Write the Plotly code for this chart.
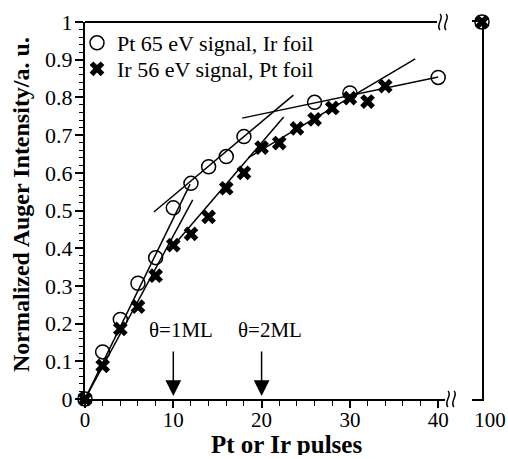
import plotly.graph_objects as go

# ---- data ----
pt_x = [0, 2, 4, 6, 8, 10, 12, 14, 16, 18, 26, 30, 40]
pt_y = [0, 0.125, 0.211, 0.307, 0.375, 0.507, 0.572, 0.616, 0.643, 0.696, 0.787, 0.812, 0.853]
ir_x = [0, 2, 4, 6, 8, 10, 12, 14, 16, 18, 20, 22, 24, 26, 28, 30, 32, 34]
ir_y = [0, 0.088, 0.186, 0.245, 0.327, 0.408, 0.438, 0.483, 0.559, 0.600, 0.667, 0.679,
        0.718, 0.742, 0.772, 0.798, 0.789, 0.830]
far_x = [100]
pt_far_y = [1.0]
ir_far_y = [1.0]

# hand-drawn straight-line fits (endpoints)
fit_pt_1_x, fit_pt_1_y = [0, 11.9], [0, 0.57]
fit_pt_2_x, fit_pt_2_y = [7.8, 23.6], [0.496, 0.806]
fit_pt_3_x, fit_pt_3_y = [17.8, 40], [0.745, 0.854]
fit_ir_1_x, fit_ir_1_y = [0, 12.2], [0, 0.528]
fit_ir_2_x, fit_ir_2_y = [9.6, 22.5], [0.395, 0.748]
fit_ir_3_x, fit_ir_3_y = [18.5, 37.4], [0.64, 0.902]

arrow_x = [10, 20]
arrow_labels = ["θ=1ML", "θ=2ML"]

x_ticks = [0, 10, 20, 30, 40]
far_ticks = [100]

SERIF = "Liberation Serif"
fig = go.Figure()

fits = [(fit_pt_1_x, fit_pt_1_y), (fit_pt_2_x, fit_pt_2_y), (fit_pt_3_x, fit_pt_3_y),
        (fit_ir_1_x, fit_ir_1_y), (fit_ir_2_x, fit_ir_2_y), (fit_ir_3_x, fit_ir_3_y)]
for fx, fy in fits:
    fig.add_trace(go.Scatter(x=fx, y=fy, mode="lines", line=dict(color="black", width=1.5),
                             showlegend=False, hoverinfo="skip", cliponaxis=False))

fig.add_trace(go.Scatter(x=pt_x, y=pt_y, mode="markers", name="Pt 65 eV signal, Ir foil",
                         marker=dict(symbol="circle-open", size=14, color="black",
                                     line=dict(width=1.5, color="black")),
                         cliponaxis=False, legend="legend"))
fig.add_trace(go.Scatter(x=ir_x, y=ir_y, mode="markers", name="Ir 56 eV signal, Pt foil",
                         marker=dict(symbol="x", size=13, color="black",
                                     line=dict(width=0)),
                         cliponaxis=False, legend="legend2"))
fig.add_trace(go.Scatter(x=far_x, y=pt_far_y, mode="markers", xaxis="x2", yaxis="y2",
                         marker=dict(symbol="circle-open", size=14, color="black",
                                     line=dict(width=1.5, color="black")),
                         showlegend=False, cliponaxis=False))
fig.add_trace(go.Scatter(x=far_x, y=ir_far_y, mode="markers", xaxis="x2", yaxis="y2",
                         marker=dict(symbol="x", size=13, color="black", line=dict(width=0)),
                         showlegend=False, cliponaxis=False))

# page body margin is removed by the post script, so figure pixels = page pixels
W, H = 508, 459
L, T = 85, 22
R = W - 482
B = H - 399
pw, ph = W - L - R, H - T - B

def px2paper(px):  # page pixel -> paper
    return (px - L) / pw

def py2paper(py):
    return (H - B - py) / ph

ann = []
for ax_, lab in zip(arrow_x, arrow_labels):
    ann.append(dict(x=ax_, y=0.008, xref="x", yref="y", ax=ax_, ay=0.13, axref="x", ayref="y",
                    text="", showarrow=True, arrowhead=2, arrowsize=2.1, arrowwidth=1.5,
                    arrowcolor="black"))
    ann.append(dict(x=ax_ + 0.9, y=0.183, xref="x", yref="y", text=lab, showarrow=False,
                    font=dict(family=SERIF, size=21, color="black")))
# axis titles
ann.append(dict(x=px2paper(21), y=py2paper(205), xref="paper", yref="paper",
                text="<b>Normalized Auger Intensity/a. u.</b>", textangle=-90, showarrow=False,
                xanchor="center", yanchor="middle",
                font=dict(family=SERIF, size=24, color="black")))
ann.append(dict(x=px2paper(286), y=py2paper(457), xref="paper", yref="paper",
                text="<b>Pt or Ir pulses</b>", showarrow=False, height=22,
                xanchor="center", yanchor="bottom",
                font=dict(family=SERIF, size=25, color="black")))

shapes = []
# top frame line of the main panel
shapes.append(dict(type="line", xref="paper", yref="paper", x0=0, x1=px2paper(437),
                   y0=1, y1=1, line=dict(color="black", width=2)))
# axis break marks
squig = "M -3,8 C 2,4 -8,-3 -3,-8 M 3,8 C 8,4 -2,-3 3,-8"
for cx, cy in [(443, 22), (451, 399)]:
    shapes.append(dict(type="path", xref="paper", yref="paper", xsizemode="pixel",
                       ysizemode="pixel", xanchor=px2paper(cx), yanchor=py2paper(cy),
                       path=squig, line=dict(color="black", width=1.5)))

leg_common = dict(xanchor="left", yanchor="middle", bgcolor="rgba(0,0,0,0)",
                  font=dict(family=SERIF, size=22, color="black"), itemwidth=30,
                  borderwidth=0)

fig.update_layout(
    width=W, height=H, margin=dict(l=L, r=R, t=T, b=B, autoexpand=False),
    paper_bgcolor="white", plot_bgcolor="white",
    font=dict(family=SERIF, color="black"),
    showlegend=True,
    legend=dict(x=px2paper(77), y=py2paper(43), **leg_common),
    legend2=dict(x=px2paper(77), y=py2paper(69), **leg_common),
    xaxis=dict(domain=[0, px2paper(445)], range=[0, 40.77], showline=True, linewidth=2,
               linecolor="black", ticks="outside", ticklen=7, tickwidth=1.5, tickcolor="black",
               tickvals=x_ticks, minor=dict(dtick=2, ticks="outside", ticklen=5, tickwidth=1,
                                            tickcolor="black"),
               tickfont=dict(family=SERIF, size=21), showgrid=False, zeroline=False,
               automargin=False, ticklabelstandoff=-6),
    xaxis2=dict(domain=[px2paper(472), 1], range=[98.8, 100], anchor="y2", showline=True,
                linewidth=2, linecolor="black", mirror=True, ticks="", tickvals=far_ticks,
                ticklabelshift=8, ticklabelstandoff=1, tickfont=dict(family=SERIF, size=21),
                showgrid=False, zeroline=False, automargin=False),
    yaxis=dict(domain=[0, 1], range=[0, 1], anchor="x", showline=True, linewidth=2,
               linecolor="black", ticks="outside", ticklen=8, tickwidth=1.5, tickcolor="black",
               dtick=0.1, minor=dict(dtick=0.02, ticks="outside", ticklen=4, tickwidth=1,
                                     tickcolor="black"),
               tickfont=dict(family=SERIF, size=22), showgrid=False, zeroline=False,
               automargin=False, ticklabelstandoff=-2),
    yaxis2=dict(domain=[0, 1], range=[0, 1], anchor="x2", side="right", showline=True,
                linewidth=2, linecolor="black", showticklabels=False, ticks="",
                showgrid=False, zeroline=False, automargin=False),
    annotations=ann, shapes=shapes,
)

fig.write_html("out.html", config={"displayModeBar": False},
               post_script="document.body.style.margin='0';document.body.style.overflow='hidden';")
